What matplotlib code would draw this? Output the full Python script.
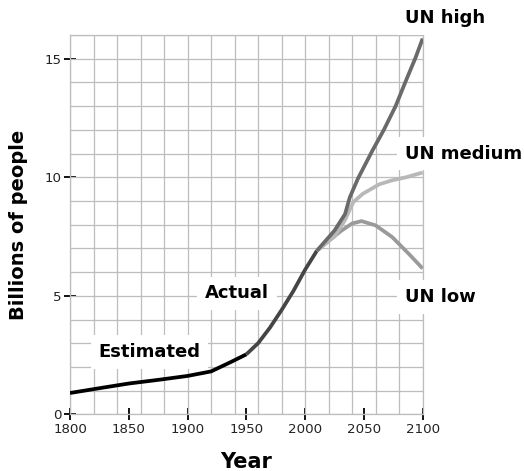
import matplotlib
matplotlib.use("Agg")
import matplotlib.pyplot as plt
from matplotlib.ticker import MultipleLocator

# values (billions of people)
est_years = [1800, 1826, 1850, 1876, 1900, 1920, 1937, 1950]
est_pop = [0.90, 1.11, 1.30, 1.46, 1.62, 1.81, 2.21, 2.53]

act_years = [1950, 1960, 1970, 1980, 1990, 2000, 2010]
act_pop = [2.53, 3.0, 3.65, 4.4, 5.2, 6.1, 6.9]

high_years = [2010, 2025, 2034, 2038, 2045, 2057, 2067, 2077, 2086, 2094, 2100]
high_pop = [6.9, 7.75, 8.45, 9.15, 9.95, 11.1, 12.0, 13.0, 14.1, 15.05, 15.85]

med_years = [2010, 2025, 2034, 2041, 2049, 2063, 2074, 2086, 2100]
med_pop = [6.9, 7.5, 8.2, 8.95, 9.3, 9.7, 9.87, 10.0, 10.2]

low_years = [2010, 2022, 2031, 2040, 2048, 2060, 2074, 2088, 2100]
low_pop = [6.9, 7.4, 7.75, 8.05, 8.15, 7.97, 7.48, 6.78, 6.15]

grid_col = '#bdbdbd'

fig = plt.figure(figsize=(5.24, 4.71), dpi=100)
ax = fig.add_axes([0.1336, 0.1203, 0.673, 0.8054])

ax.plot(est_years, est_pop, color='black', lw=2.7, solid_capstyle='butt', zorder=3)
ax.plot(act_years, act_pop, color='#454545', lw=2.7, solid_capstyle='butt', zorder=3)
ax.plot(low_years, low_pop, color='#9a9a9a', lw=2.7, solid_capstyle='butt', zorder=3)
ax.plot(med_years, med_pop, color='#b8b8b8', lw=2.7, solid_capstyle='butt', zorder=3)
ax.plot(high_years, high_pop, color='#6a6a6a', lw=2.7, solid_capstyle='butt', zorder=3)

ax.set_xlim(1800, 2100)
ax.set_ylim(0, 16)

ax.xaxis.set_major_locator(MultipleLocator(50))
ax.xaxis.set_minor_locator(MultipleLocator(20))
ax.yaxis.set_major_locator(MultipleLocator(5))
ax.yaxis.set_minor_locator(MultipleLocator(1))
ax.xaxis.remove_overlapping_locs = False
ax.yaxis.remove_overlapping_locs = False

ax.grid(which='minor', color=grid_col, lw=0.9, zorder=0)
ax.set_axisbelow(True)
ax.tick_params(which='major', direction='inout', length=9, width=1.3,
               color='black', labelsize=9.6, labelcolor='#222222', pad=1.5)
ax.tick_params(which='minor', length=0)
for s in ax.spines.values():
    s.set_color(grid_col)
    s.set_linewidth(0.9)

ax.set_xlabel('Year', fontsize=15, fontweight='bold', labelpad=12)
ax.set_ylabel('Billions of people', fontsize=14, fontweight='bold', labelpad=12)

# labels sit on white patches that hide the grid behind them
box = dict(facecolor='white', edgecolor='none', pad=5.5)
lab = dict(fontsize=13, fontweight='bold', va='center', ha='left', bbox=box, zorder=4)
ax.text(2085, 16.7, 'UN high', clip_on=False, **lab)
ax.text(2085, 11.0, 'UN medium', clip_on=False, **lab)
ax.text(2085, 4.95, 'UN low', clip_on=False, **lab)
ax.text(1914.8, 5.1, 'Actual', **lab)
ax.text(1824, 2.63, 'Estimated', **lab)

fig.savefig('out.png', dpi=100)
